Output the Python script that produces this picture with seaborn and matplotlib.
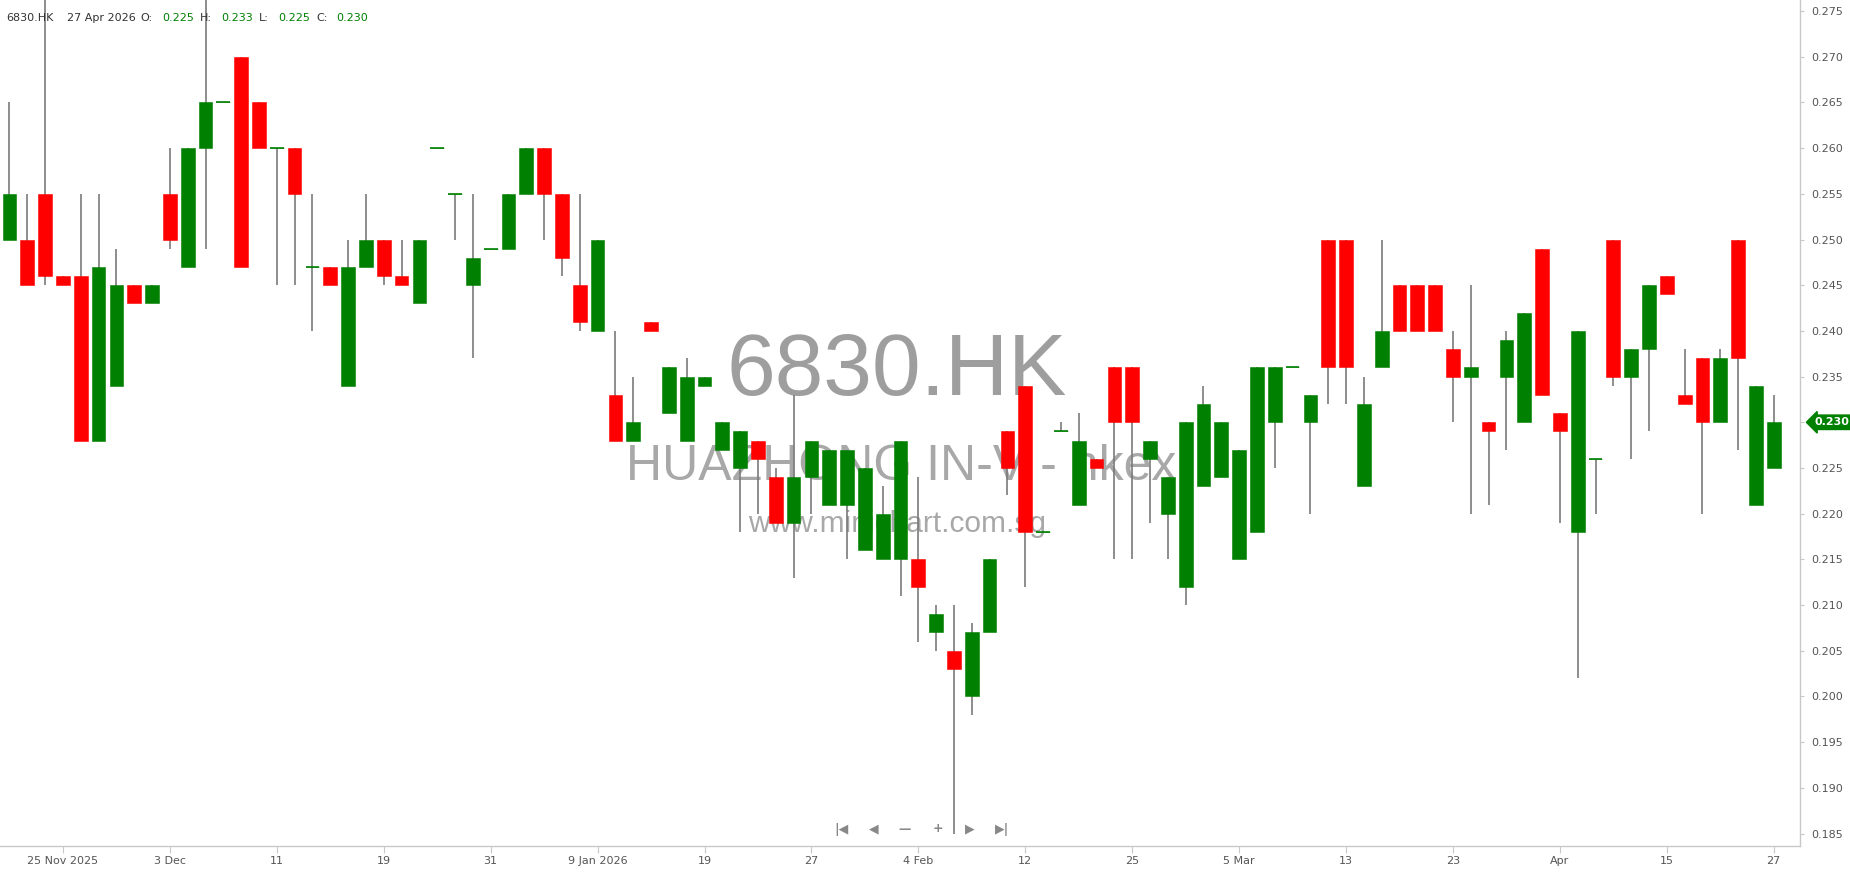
import matplotlib
matplotlib.use("Agg")
import matplotlib.pyplot as plt
import seaborn as sns
import numpy as np

# OHLC values, one candle per trading day (oldest first)
opens = [0.250, 0.250, 0.255, 0.246, 0.246, 0.228, 0.234, 0.245, 0.243, 0.255,
         0.247, 0.260, 0.265, 0.270, 0.265, 0.260, 0.260, 0.247, 0.247, 0.234,
         0.247, 0.250, 0.246, 0.243, 0.260, 0.255, 0.245, 0.249, 0.249, 0.255,
         0.260, 0.255, 0.245, 0.240, 0.233, 0.228, 0.241, 0.231, 0.228, 0.234,
         0.227, 0.225, 0.228, 0.224, 0.219, 0.224, 0.221, 0.221, 0.216, 0.215,
         0.215, 0.215, 0.207, 0.205, 0.200, 0.207, 0.229, 0.234, 0.218, 0.229,
         0.221, 0.226, 0.236, 0.236, 0.226, 0.220, 0.212, 0.223, 0.224, 0.215,
         0.218, 0.230, 0.236, 0.230, 0.250, 0.250, 0.223, 0.236, 0.245, 0.245,
         0.245, 0.238, 0.235, 0.230, 0.235, 0.230, 0.249, 0.231, 0.218, 0.226,
         0.250, 0.235, 0.238, 0.246, 0.233, 0.237, 0.230, 0.250, 0.221, 0.225]
highs = [0.265, 0.255, 0.280, 0.246, 0.255, 0.255, 0.249, 0.245, 0.245, 0.260,
         0.260, 0.280, 0.265, 0.270, 0.265, 0.260, 0.260, 0.255, 0.247, 0.250,
         0.255, 0.250, 0.250, 0.250, 0.260, 0.255, 0.255, 0.249, 0.255, 0.260,
         0.260, 0.255, 0.255, 0.250, 0.240, 0.235, 0.241, 0.236, 0.237, 0.235,
         0.230, 0.229, 0.228, 0.225, 0.233, 0.228, 0.227, 0.227, 0.225, 0.223,
         0.228, 0.224, 0.210, 0.210, 0.208, 0.215, 0.229, 0.234, 0.218, 0.230,
         0.231, 0.226, 0.236, 0.236, 0.228, 0.224, 0.230, 0.234, 0.230, 0.227,
         0.236, 0.236, 0.236, 0.233, 0.250, 0.250, 0.235, 0.250, 0.245, 0.245,
         0.245, 0.240, 0.245, 0.230, 0.240, 0.242, 0.249, 0.231, 0.240, 0.226,
         0.250, 0.238, 0.245, 0.246, 0.238, 0.237, 0.238, 0.250, 0.234, 0.233]
lows = [0.250, 0.245, 0.245, 0.245, 0.228, 0.228, 0.234, 0.243, 0.243, 0.249,
        0.247, 0.249, 0.265, 0.247, 0.260, 0.245, 0.245, 0.240, 0.245, 0.234,
        0.247, 0.245, 0.245, 0.243, 0.260, 0.250, 0.237, 0.249, 0.249, 0.255,
        0.250, 0.246, 0.240, 0.240, 0.228, 0.228, 0.240, 0.231, 0.228, 0.234,
        0.227, 0.218, 0.220, 0.219, 0.213, 0.220, 0.221, 0.215, 0.216, 0.215,
        0.211, 0.206, 0.205, 0.185, 0.198, 0.207, 0.222, 0.212, 0.218, 0.229,
        0.221, 0.225, 0.215, 0.215, 0.219, 0.215, 0.210, 0.223, 0.224, 0.215,
        0.218, 0.225, 0.236, 0.220, 0.232, 0.232, 0.223, 0.236, 0.240, 0.240,
        0.240, 0.230, 0.220, 0.221, 0.227, 0.230, 0.233, 0.219, 0.202, 0.220,
        0.234, 0.226, 0.229, 0.244, 0.232, 0.220, 0.230, 0.227, 0.221, 0.225]
closes = [0.255, 0.245, 0.246, 0.245, 0.228, 0.247, 0.245, 0.243, 0.245, 0.250,
          0.260, 0.265, 0.265, 0.247, 0.260, 0.260, 0.255, 0.247, 0.245, 0.247,
          0.250, 0.246, 0.245, 0.250, 0.260, 0.255, 0.248, 0.249, 0.255, 0.260,
          0.255, 0.248, 0.241, 0.250, 0.228, 0.230, 0.240, 0.236, 0.235, 0.235,
          0.230, 0.229, 0.226, 0.219, 0.224, 0.228, 0.227, 0.227, 0.225, 0.220,
          0.228, 0.212, 0.209, 0.203, 0.207, 0.215, 0.225, 0.218, 0.218, 0.229,
          0.228, 0.225, 0.230, 0.230, 0.228, 0.224, 0.230, 0.232, 0.230, 0.227,
          0.236, 0.236, 0.236, 0.233, 0.236, 0.236, 0.232, 0.240, 0.240, 0.240,
          0.240, 0.235, 0.236, 0.229, 0.239, 0.242, 0.233, 0.229, 0.240, 0.226,
          0.235, 0.238, 0.245, 0.244, 0.232, 0.230, 0.237, 0.237, 0.234, 0.230]

# x-axis date labels and the candle index they sit under
tick_idx = [3, 9, 15, 21, 27, 33, 39, 45, 51, 57, 63, 69, 75, 81, 87, 93, 99]
tick_labels = ["25 Nov 2025", "3 Dec", "11", "19", "31", "9 Jan 2026", "19", "27",
               "4 Feb", "12", "25", "5 Mar", "13", "23", "Apr", "15", "27"]
price_ticks = [0.185, 0.190, 0.195, 0.200, 0.205, 0.210, 0.215, 0.220, 0.225, 0.230,
               0.235, 0.240, 0.245, 0.250, 0.255, 0.260, 0.265, 0.270, 0.275]

symbol = "6830.HK"
name = "HUAZHONG IN-V - hkex"
last_date = "27 Apr 2026"

UP = "#008000"
DOWN = "#ff0000"
WICK = "#7a7a7a"
W, H = 1850, 874

sns.set_theme(style="white")
plt.rcParams["font.family"] = ["DejaVu Sans"]

fig = plt.figure(figsize=(W / 100, H / 100), dpi=100)
ax = fig.add_axes([0, 1 - 846.3 / H, 1800.3 / W, 846.3 / H])


def fpos(x, y):
    # pixel position (from top-left) -> figure fraction
    return x / W, 1 - y / H


o = np.array(opens)
c = np.array(closes)
x = np.arange(len(o))
up = c >= o
colors = np.where(up, UP, DOWN)

# watermark
ax.text(*fpos(897, 395), symbol, transform=fig.transFigure, ha="center", va="baseline",
        fontsize=63, color="#9e9e9e", family="Liberation Sans", zorder=0)
ax.text(*fpos(901, 480), name, transform=fig.transFigure, ha="center", va="baseline",
        fontsize=36, color="#a8a8a8", family="Liberation Sans", zorder=0)
ax.text(*fpos(897, 532), "www.minichart.com.sg", transform=fig.transFigure, ha="center",
        va="baseline", fontsize=21.5, color="#a8a8a8", family="Liberation Sans", zorder=0)

# candles
ax.vlines(x, lows, highs, color=WICK, lw=1.2, zorder=2)
body_lo = np.minimum(o, c)
body_h = np.abs(c - o)
ax.bar(x, body_h, bottom=body_lo, width=0.77, color=colors, edgecolor=colors,
       linewidth=0.4, zorder=3)
flat = body_h == 0
ax.hlines(o[flat], x[flat] - 0.385, x[flat] + 0.385, color=UP, lw=1.2, zorder=3)

ax.set_xlim(-0.533, 100.49)
ax.set_ylim(0.1836, 0.27621)

# the last price tag sits where the 0.230 label would be
last = closes[-1]
ax.yaxis.tick_right()
ax.set_yticks(price_ticks)
ax.set_yticklabels(["" if abs(v - last) < 1e-9 else f"{v:.3f}" for v in price_ticks])
ax.set_xticks(tick_idx)
ax.set_xticklabels(tick_labels)
ax.tick_params(axis="y", length=3, width=0.8, color="#c8c8c8", pad=5,
               labelsize=8, labelcolor="#555555", right=True, left=False)
ax.tick_params(axis="x", length=5, width=0.8, color="#c8c8c8", pad=2,
               labelsize=8, labelcolor="#555555", bottom=True)
for s in ["left", "top"]:
    ax.spines[s].set_visible(False)
for s in ["right", "bottom"]:
    ax.spines[s].set_color("#c8c8c8")
    ax.spines[s].set_linewidth(1)
ax.grid(False)

ax.annotate(f"{last:.3f}", xy=(1.0, last), xycoords=("axes fraction", "data"),
            xytext=(10, 0), textcoords="offset points", ha="left", va="center",
            fontsize=8, color="white", fontweight="bold", annotation_clip=False,
            bbox=dict(boxstyle="larrow,pad=0.2", fc=UP, ec=UP))

# header
header = [(6.7, symbol, "#333333"), (66.7, last_date, "#333333"),
          (140, "O:", "#333333"), (162.3, f"{opens[-1]:.3f}", UP),
          (200, "H:", "#333333"), (221.7, f"{highs[-1]:.3f}", UP),
          (259.3, "L:", "#333333"), (278.3, f"{lows[-1]:.3f}", UP),
          (316, "C:", "#333333"), (336, f"{closes[-1]:.3f}", UP)]
for hx, txt, col in header:
    fig.text(*fpos(hx, 18), txt, ha="left", va="center", fontsize=8, color=col)

# navigation buttons
nav = [(842, "|◀"), (874, "◀"), (905, "—"), (937.5, "+"), (969.7, "▶"), (1001.7, "▶|")]
for nx, txt in nav:
    fig.text(*fpos(nx, 829), txt, ha="center", va="center", fontsize=9,
             color="#888888", fontweight="bold")

fig.savefig("out.png", dpi=100)
